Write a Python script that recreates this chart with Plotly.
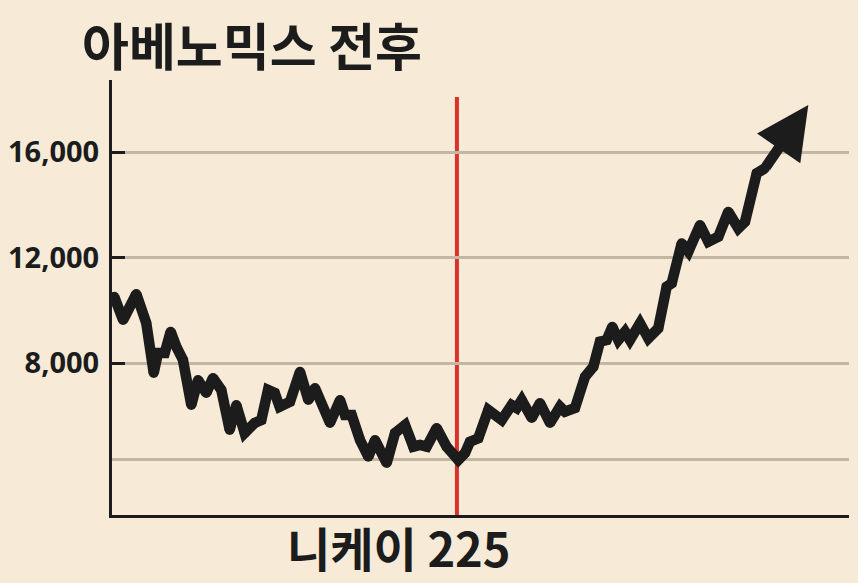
import plotly.graph_objects as go

# ---- data ----
title_text = "아베노믹스 전후"
x_label = "니케이 225"

# time position (0-100 across the axis) and Nikkei 225 level
t = [0.3, 1.5, 3.3, 4.65, 5.66, 6.24, 7.15, 7.96, 8.72, 9.63, 10.76, 11.67, 12.79, 13.7,
     14.83, 15.97, 16.87, 18.0, 19.36, 20.26, 21.17, 22.08, 22.75, 24.15, 25.51, 26.64,
     27.54, 29.58, 30.94, 31.61, 32.52, 33.65, 34.78, 35.69, 37.27, 38.4, 39.76, 40.88,
     41.79, 42.7, 44.05, 45.41, 46.99, 47.9, 48.57, 49.7, 51.06, 52.88, 54.23, 54.91,
     55.59, 56.95, 58.07, 59.43, 60.79, 61.47, 62.82, 64.18, 65.31, 66.21, 67.12, 67.88,
     68.7, 69.61, 70.28, 71.64, 72.77, 74.12, 75.26, 75.94, 77.3, 78.2, 79.78, 80.91,
     82.27, 83.62, 84.98, 85.89, 87.48, 88.6, 94.48]
nikkei = [10525, 9642, 10627, 9528, 7632, 8390, 8390, 9198, 8629, 8125, 6419, 7367, 6874, 7443,
          6988, 5471, 6419, 5358, 5737, 5851, 6988, 6874, 6355, 6544, 7682, 6609,
          7064, 5737, 6609, 6040, 6040, 5092, 4459, 5092, 4220, 5358, 5661, 4838,
          4903, 4838, 5547, 4838, 4334, 4600, 5028, 5157, 6230, 5851, 6419, 6305,
          6609, 5926, 6495, 5737, 6355, 6165, 6305, 7492, 7871, 8819, 8883, 9388,
          8883, 9198, 8883, 9516, 8948, 9327, 10904, 11033, 12549, 12231, 13243, 12610,
          12800, 13747, 13118, 13368, 15203, 15392, 17790]

y_ticks = [8000, 12000, 16000]
y_tick_labels = ["8,000", "12,000", "16,000"]
extra_grid = [4370]
abenomics_t = 46.8
red_line_top = 18100
x_range = [0, 100]
y_range = [2249, 18740]

# ---- styles ----
bg = "#f7ebd8"
ink = "#1c1c1c"
grid = "#c2b6a4"
red = "#d9322b"

fig = go.Figure()

fig.add_trace(go.Scatter(
    x=t[:-1], y=nikkei[:-1], mode="lines+markers",
    line=dict(color=ink, width=10.5),
    marker=dict(color=ink, size=10),
    hoverinfo="skip", showlegend=False,
))

# arrow head at the end of the series
fig.add_annotation(
    x=t[-1], y=nikkei[-1], ax=t[-2], ay=nikkei[-2],
    xref="x", yref="y", axref="x", ayref="y",
    text="", showarrow=True, arrowhead=2, arrowsize=1.0,
    arrowwidth=10.5, arrowcolor=ink, standoff=0, startstandoff=0,
)

# red vertical line marking the start of Abenomics
fig.add_shape(
    type="line", xref="x", yref="y",
    x0=abenomics_t, x1=abenomics_t, y0=y_range[0], y1=red_line_top,
    line=dict(color=red, width=4), layer="below",
)

# title
fig.add_annotation(
    xref="paper", yref="paper", x=-0.043, y=1.083,
    xanchor="left", yanchor="middle", showarrow=False,
    text="<b>" + title_text + "</b>",
    font=dict(family="Noto Sans CJK KR", size=51, color=ink, weight=900),
)

# x label
fig.add_annotation(
    xref="paper", yref="paper", x=0.389, y=-0.156,
    xanchor="center", yanchor="bottom", showarrow=False,
    text="<b>" + x_label + "</b>",
    font=dict(family="Noto Sans CJK KR", size=47, color=ink),
)

fig.update_xaxes(
    range=x_range, showgrid=False, zeroline=False, automargin=False,
    showline=True, linecolor=ink, linewidth=3,
    showticklabels=False, ticks="",
)
fig.update_yaxes(
    range=y_range, tickmode="array", tickvals=y_ticks, ticktext=y_tick_labels,
    showgrid=True, gridcolor=grid, gridwidth=2.5, zeroline=False, automargin=False,
    showline=True, linecolor=ink, linewidth=3,
    ticks="inside", ticklen=13, tickwidth=3, tickcolor=ink,
    ticklabelstandoff=4,
    tickfont=dict(family="Noto Sans", size=29, color=ink, weight=700),
    minor=dict(tickmode="array", tickvals=extra_grid, showgrid=True,
               gridcolor=grid, gridwidth=2.5, ticks=""),
)

fig.update_layout(
    width=858, height=583,
    margin=dict(l=112, r=9, t=80, b=68),
    paper_bgcolor=bg, plot_bgcolor=bg,
    showlegend=False,
)

fig.write_html(
    "out.html",
    config={"displayModeBar": False},
    post_script="document.body.style.margin='0';document.body.style.overflow='hidden';"
                "document.body.style.background='" + bg + "';",
)
